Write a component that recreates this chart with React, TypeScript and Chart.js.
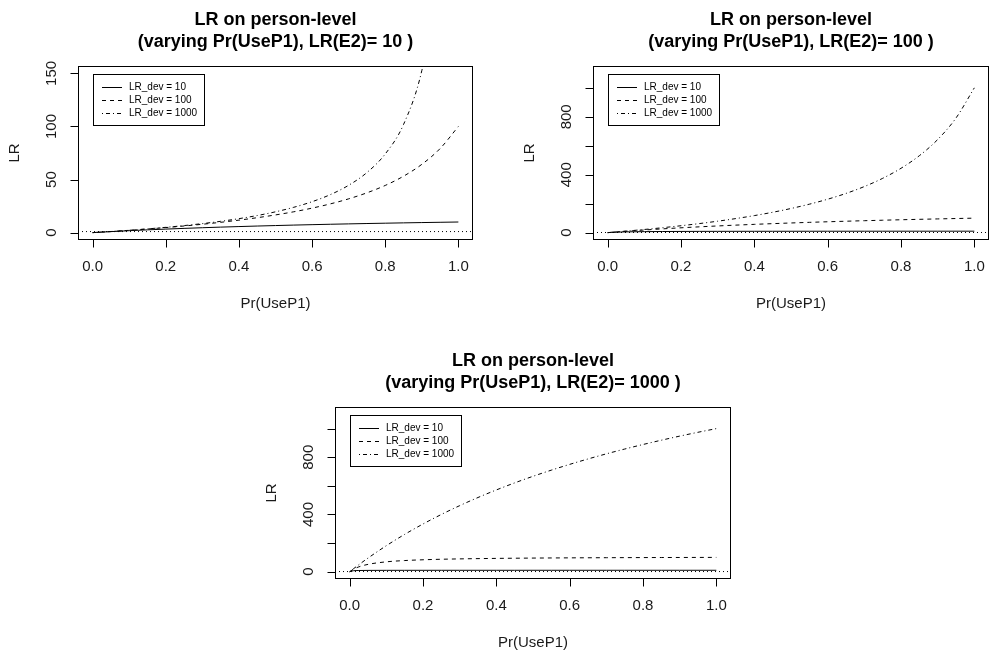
import React, { useEffect, useRef } from 'react';
import { Chart, registerables } from 'chart.js';

Chart.register(...registerables);

// ---------- data ----------
const P_USE = [0, 0.01, 0.025, 0.05, 0.1, 0.15, 0.2, 0.25, 0.3, 0.35, 0.4, 0.45, 0.5, 0.55, 0.6, 0.65, 0.7, 0.75, 0.8, 0.85, 0.9, 0.95, 1];

const P1_DEV10 = [0, 0.2, 0.49, 0.95, 1.82, 2.61, 3.33, 4.0, 4.62, 5.19, 5.71, 6.21, 6.67, 7.1, 7.5, 7.88, 8.24, 8.57, 8.89, 9.19, 9.47, 9.74, 10];
const P1_DEV100 = [0, 0.2, 0.51, 1.04, 2.17, 3.41, 4.76, 6.25, 7.89, 9.72, 11.76, 14.06, 16.67, 19.64, 23.08, 27.08, 31.82, 37.5, 44.44, 53.13, 64.29, 79.17, 100];
const P1_DEV1000 = [0, 0.2, 0.51, 1.05, 2.22, 3.52, 4.98, 6.62, 8.5, 10.65, 13.16, 16.1, 19.61, 23.86, 29.13, 35.81, 44.59, 56.6, 74.07, 101.8, 152.54, 275.36, 1000];

const P2_DEV10 = [0, 1.68, 3.39, 5.13, 6.9, 7.79, 8.33, 8.7, 8.96, 9.15, 9.3, 9.42, 9.52, 9.61, 9.68, 9.74, 9.79, 9.84, 9.88, 9.91, 9.94, 9.97, 10];
const P2_DEV100 = [0, 1.98, 4.88, 9.52, 18.18, 26.09, 33.33, 40, 46.15, 51.85, 57.14, 62.07, 66.67, 70.97, 75, 78.79, 82.35, 85.71, 88.89, 91.89, 94.74, 97.44, 100];
const P2_DEV1000 = [0, 2.02, 5.1, 10.42, 21.74, 34.09, 47.62, 62.5, 78.95, 97.22, 117.65, 140.63, 166.67, 196.43, 230.77, 270.83, 318.18, 375, 444.44, 531.25, 642.86, 791.67, 1000];

const P3_DEV10 = [0, 6.69, 8.37, 9.13, 9.57, 9.72, 9.8, 9.85, 9.89, 9.91, 9.93, 9.94, 9.95, 9.96, 9.97, 9.97, 9.98, 9.98, 9.99, 9.99, 9.99, 10, 10];
const P3_DEV100 = [0, 16.81, 33.9, 51.28, 68.97, 77.92, 83.33, 86.96, 89.55, 91.5, 93.02, 94.24, 95.24, 96.07, 96.77, 97.38, 97.9, 98.36, 98.77, 99.13, 99.45, 99.74, 100];
const P3_DEV1000 = [0, 19.8, 48.78, 95.24, 181.82, 260.87, 333.33, 400, 461.54, 518.52, 571.43, 620.69, 666.67, 709.68, 750, 787.88, 823.53, 857.14, 888.89, 918.92, 947.37, 974.36, 1000];

const REF_LEVEL = 1;

const X_LIM = [0, 1];
const X_TICKS = [0, 0.2, 0.4, 0.6, 0.8, 1];
const X_TICK_LABELS = ['0.0', '0.2', '0.4', '0.6', '0.8', '1.0'];

const Y_LIM_A = [0, 150];
const Y_TICKS_A = [0, 50, 100, 150];
const Y_TICK_LABELS_A = ['0', '50', '100', '150'];

const Y_LIM_B = [0, 1100];
const Y_TICKS_B = [0, 200, 400, 600, 800, 1000];
const Y_TICK_LABELS_B = ['0', '', '400', '', '800', ''];

const LEGEND_LABELS = ['LR_dev = 10', 'LR_dev = 100', 'LR_dev = 1000'];
const LR_E2 = [10, 100, 1000];

const TITLE_1 = 'LR on person-level';
const X_TITLE = 'Pr(UseP1)';
const Y_TITLE = 'LR';

// ---------- styles ----------
const FONT = "'Liberation Sans', Arial, sans-serif";
const INK = '#000';
const TEXT = '#1a1a1a';
const DASHES = [[], [4, 4], [1, 3, 4, 3]];
const REF_DASH = [1, 3];

type PanelCfg = {
  left: number; top: number; width: number; height: number;
  padding: { left: number; right: number; top: number; bottom: number };
  e2: number;
  yLim: number[]; yTicks: number[]; yLabels: string[];
  series: number[][];
};

const PANELS: PanelCfg[] = [
  {
    left: 0, top: 0, width: 494, height: 326,
    padding: { left: 78, right: 21, top: 67, bottom: 87 },
    e2: LR_E2[0], yLim: Y_LIM_A, yTicks: Y_TICKS_A, yLabels: Y_TICK_LABELS_A,
    series: [P1_DEV10, P1_DEV100, P1_DEV1000],
  },
  {
    left: 494, top: 0, width: 495, height: 326,
    padding: { left: 99, right: 0, top: 67, bottom: 87 },
    e2: LR_E2[1], yLim: Y_LIM_B, yTicks: Y_TICKS_B, yLabels: Y_TICK_LABELS_B,
    series: [P2_DEV10, P2_DEV100, P2_DEV1000],
  },
  {
    left: 258, top: 340, width: 494, height: 312,
    padding: { left: 77, right: 21, top: 68, bottom: 74 },
    e2: LR_E2[2], yLim: Y_LIM_B, yTicks: Y_TICKS_B, yLabels: Y_TICK_LABELS_B,
    series: [P3_DEV10, P3_DEV100, P3_DEV1000],
  },
];

const expand = (lim: number[]) => {
  const d = (lim[1] - lim[0]) * 0.04;
  return [lim[0] - d, lim[1] + d];
};

function makeDecor(cfg: PanelCfg) {
  return {
    id: 'rDecor',
    afterDraw(chart: any) {
      const { ctx, chartArea: a, scales } = chart;
      const xs = scales.x;
      const ys = scales.y;
      const cx = (a.left + a.right) / 2;
      ctx.save();
      ctx.strokeStyle = INK;
      ctx.lineWidth = 1;
      ctx.setLineDash([]);
      // plot box
      ctx.strokeRect(a.left + 0.5, a.top - 0.5, a.right - a.left - 1, a.bottom - a.top + 1);
      // ticks
      ctx.beginPath();
      X_TICKS.forEach((v) => {
        const px = Math.round(xs.getPixelForValue(v)) + 0.5;
        ctx.moveTo(px, a.bottom + 0.5);
        ctx.lineTo(px, a.bottom + 8.5);
      });
      cfg.yTicks.forEach((v) => {
        const py = Math.round(ys.getPixelForValue(v)) + 0.5;
        ctx.moveTo(a.left + 0.5, py);
        ctx.lineTo(a.left - 7.5, py);
      });
      ctx.stroke();

      // tick labels
      ctx.fillStyle = TEXT;
      ctx.font = `15px ${FONT}`;
      ctx.textAlign = 'center';
      ctx.textBaseline = 'middle';
      X_TICKS.forEach((v, i) => {
        ctx.fillText(X_TICK_LABELS[i], xs.getPixelForValue(v), a.bottom + 27.5);
      });
      cfg.yTicks.forEach((v, i) => {
        const lab = cfg.yLabels[i];
        if (!lab) return;
        ctx.save();
        ctx.translate(a.left - 26, ys.getPixelForValue(v));
        ctx.rotate(-Math.PI / 2);
        ctx.fillText(lab, 0, 0);
        ctx.restore();
      });
      // axis titles
      ctx.fillText(X_TITLE, cx, a.bottom + 64.5);
      ctx.save();
      ctx.translate(a.left - 63, (a.top + a.bottom) / 2);
      ctx.rotate(-Math.PI / 2);
      ctx.fillText(Y_TITLE, 0, 0);
      ctx.restore();

      // main title
      ctx.fillStyle = INK;
      ctx.font = `bold 18px ${FONT}`;
      ctx.fillText(TITLE_1, cx, a.top - 46.5);
      ctx.fillText(`(varying Pr(UseP1), LR(E2)= ${cfg.e2} )`, cx, a.top - 24.5);

      // legend
      const lx = a.left + 15;
      const ly = a.top + 6.5;
      const lw = 111;
      const lh = 51;
      ctx.fillStyle = '#fff';
      ctx.fillRect(lx, ly, lw, lh);
      ctx.strokeStyle = INK;
      ctx.strokeRect(Math.round(lx) + 0.5, Math.round(ly) + 0.5, lw, lh);
      ctx.font = `10px ${FONT}`;
      ctx.textAlign = 'left';
      ctx.fillStyle = INK;
      const rows = [13, 26, 39];
      LEGEND_LABELS.forEach((lab, i) => {
        const ry = Math.round(ly + rows[i]) + 0.5;
        ctx.setLineDash(DASHES[i]);
        ctx.beginPath();
        ctx.moveTo(lx + 9, ry);
        ctx.lineTo(lx + 29, ry);
        ctx.stroke();
        ctx.setLineDash([]);
        ctx.fillText(lab, lx + 36, ry);
      });
      ctx.restore();
    },
  };
}

function Panel({ cfg }: { cfg: PanelCfg }) {
  const ref = useRef<HTMLCanvasElement | null>(null);
  useEffect(() => {
    if (!ref.current) return;
    const xr = expand(X_LIM);
    const yr = expand(cfg.yLim);
    const datasets: any[] = cfg.series.map((vals, i) => ({
      label: LEGEND_LABELS[i],
      data: P_USE.map((x, j) => ({ x, y: vals[j] })),
      borderColor: INK,
      borderWidth: 1,
      borderDash: DASHES[i],
      pointRadius: 0,
      fill: false,
      cubicInterpolationMode: 'monotone',
    }));
    datasets.push({
      label: 'ref',
      data: [{ x: xr[0], y: REF_LEVEL }, { x: xr[1], y: REF_LEVEL }],
      borderColor: INK,
      borderWidth: 1,
      borderDash: REF_DASH,
      pointRadius: 0,
      fill: false,
    });
    const chart = new Chart(ref.current, {
      type: 'line',
      data: { datasets },
      options: {
        responsive: false,
        animation: false,
        events: [],
        layout: { padding: cfg.padding },
        plugins: {
          legend: { display: false },
          title: { display: false },
          tooltip: { enabled: false },
        },
        scales: {
          x: { type: 'linear', display: false, min: xr[0], max: xr[1] },
          y: { type: 'linear', display: false, min: yr[0], max: yr[1] },
        },
      },
      plugins: [makeDecor(cfg)],
    } as any);
    return () => chart.destroy();
  }, [cfg]);
  return (
    <canvas
      ref={ref}
      width={cfg.width}
      height={cfg.height}
      style={{ position: 'absolute', left: cfg.left, top: cfg.top, width: cfg.width, height: cfg.height }}
    />
  );
}

export default function App() {
  return (
    <div style={{ position: 'absolute', left: 0, top: 0, width: 989, height: 652, background: '#fff', overflow: 'hidden' }}>
      {PANELS.map((cfg, i) => (
        <Panel key={i} cfg={cfg} />
      ))}
    </div>
  );
}
